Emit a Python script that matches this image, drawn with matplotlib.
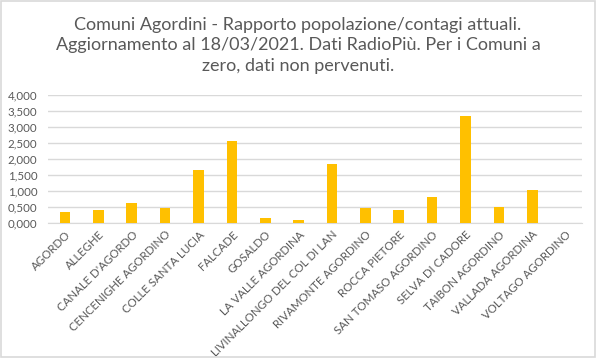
import matplotlib
matplotlib.use("Agg")
import matplotlib.pyplot as plt
from matplotlib.ticker import FuncFormatter
from matplotlib.patches import Rectangle

comuni = ["AGORDO", "ALLEGHE", "CANALE D'AGORDO", "CENCENIGHE AGORDINO",
          "COLLE SANTA LUCIA", "FALCADE", "GOSALDO", "LA VALLE AGORDINA",
          "LIVINALLONGO DEL COL DI LAN", "RIVAMONTE AGORDINO", "ROCCA PIETORE",
          "SAN TOMASO AGORDINO", "SELVA DI CADORE", "TAIBON AGORDINO",
          "VALLADA AGORDINA", "VOLTAGO AGORDINO"]
valori = [0.35, 0.415, 0.63, 0.49, 1.66, 2.56, 0.175, 0.10,
          1.85, 0.49, 0.415, 0.82, 3.34, 0.51, 1.04, 0.0]
yticks = [0, 0.5, 1.0, 1.5, 2.0, 2.5, 3.0, 3.5, 4.0]
titolo = ("Comuni Agordini - Rapporto popolazione/contagi attuali.\n"
          "Aggiornamento al 18/03/2021. Dati RadioPiù. Per i Comuni a\n"
          "zero, dati non pervenuti.")

plt.rcParams['font.family'] = ['Lato', 'DejaVu Sans']
fig = plt.figure(figsize=(5.96, 3.58), dpi=100)
ax = fig.add_axes([0.081, 0.376, 0.896, 0.359])

x = range(len(comuni))
ax.bar(x, valori, width=0.32, color='#FFC000', zorder=3)
ax.set_xlim(-0.5, len(comuni) - 0.5)
ax.set_ylim(0, 4)
ax.set_yticks(yticks)
ax.yaxis.set_major_formatter(FuncFormatter(lambda v, p: f"{v:.3f}".replace('.', ',')))
ax.grid(axis='y', color='#D9D9D9', linewidth=1, zorder=0)
for s in ['top', 'right', 'left']:
    ax.spines[s].set_visible(False)
ax.spines['bottom'].set_color('#D9D9D9')
ax.tick_params(axis='both', length=0, colors='#595959', labelsize=8.3)
ax.tick_params(axis='y', pad=8)
ax.set_xticks(list(x))
ax.set_xticklabels(comuni, rotation=45, ha='right', rotation_mode='anchor')
ax.tick_params(axis='x', pad=4)

fig.text(0.5, 0.952, titolo, ha='center', va='top', fontsize=13,
         color='#595959', linespacing=1.33)
fig.patches.append(Rectangle((0.001, 0.002), 0.997, 0.995, transform=fig.transFigure,
                             fill=False, edgecolor='#D9D9D9', linewidth=1.2))
fig.savefig("out.png", dpi=100, facecolor='white')
